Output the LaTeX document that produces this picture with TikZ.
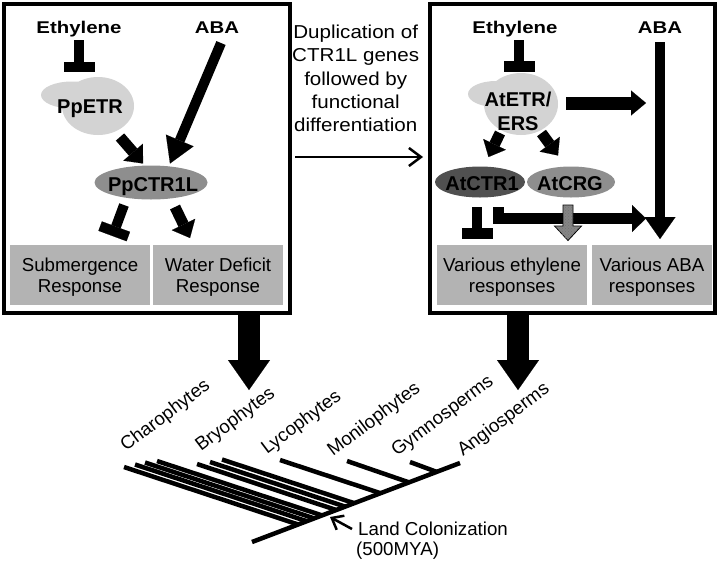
\documentclass[tikz,border=0pt]{standalone}
\usepackage{fontspec}
\setmainfont{Liberation Sans}
\newfontfamily\sigfont{Liberation Sans}[FakeStretch=1.2]
\newfontfamily\widefont{Liberation Sans}[FakeStretch=1.1]
\usetikzlibrary{arrows.meta,patterns,shapes.geometric}
\definecolor{blobgray}{HTML}{D3D3D3}
\definecolor{protgray}{HTML}{8E8E8E}
\definecolor{ctrgray}{HTML}{505050}
\definecolor{respgray}{HTML}{B3B3B3}
\definecolor{crggray}{HTML}{858585}
\begin{document}
\begin{tikzpicture}[x=1pt,y=-1pt,
  panel/.style={draw=black,line width=4pt,fill=white,inner sep=0pt},
  resp/.style={fill=respgray,inner sep=0pt,align=center,text depth=0pt,font=\fontsize{18.7}{21.5}\selectfont},
  sig/.style={inner sep=0pt,anchor=base,font=\sigfont\bfseries\fontsize{17}{20}\selectfont},
  prot/.style={inner sep=0pt,anchor=base,font=\bfseries\fontsize{20}{23.5}\selectfont},
  oval/.style={ellipse,inner sep=0pt,draw=none},
  blockarrow/.style n args={3}{line width=#1,-{Triangle[width=#2,length=#3,line width=0.1pt]}},
  inhibit/.style n args={3}{line width=#1,-{Rectangle[width=#2,length=#3,line width=0.1pt]}},
  thinarrow/.style={line width=2.5pt,-{Straight Barb[length=12pt,width=18pt]}},
  branch/.style={line width=4.5pt},
  taxon/.style={inner sep=0pt,anchor=base west,rotate=37,font=\fontsize{18.7}{22}\selectfont},
  plain/.style={inner sep=0pt,anchor=base west,font=\fontsize{18.7}{22}\selectfont}
]
\useasboundingbox (0,0) rectangle (719,560);

% ---------- panels ----------
\node[panel,minimum width=286pt,minimum height=309pt] (lbox) at (147,158.5) {};
\node[panel,minimum width=285pt,minimum height=309pt] (rbox) at (572.5,158.5) {};

% ---------- response boxes ----------
\node[resp,minimum width=140pt,minimum height=60pt] (sub) at (80,275) {Submergence\\Response};
\node[resp,minimum width=130pt,minimum height=60pt] (wd) at (218,275) {Water Deficit\\Response};
\node[resp,minimum width=150pt,minimum height=60pt] (veth) at (512,275) {Various ethylene\\responses};
\node[resp,minimum width=120pt,minimum height=60pt] (vaba) at (652,275) {Various ABA\\responses};

% ---------- left panel ----------
\node[sig] (ethL) at (79,33.3) {Ethylene};
\node[sig] (abaL) at (217,33.3) {ABA};
\node[oval,fill=blobgray,minimum width=62pt,minimum height=27pt] (etrLlobe) at (72,95) {};
\node[oval,fill=blobgray,minimum width=72pt,minimum height=58pt] (etrLbody) at (98,106) {};
\node[prot] (ppetr) at (90,113) {PpETR};
\node[oval,fill=protgray,minimum width=113pt,minimum height=34pt] (ppctrE) at (151,182.5) {};
\node[prot] (ppctr) at (153,191.3) {PpCTR1L};

\coordinate (eL1) at (79,40);   \coordinate (eL2) at (79,71);
\coordinate (aL1) at (221,43);  \coordinate (aL2) at (170,163.5);
\coordinate (pL1) at (120,137); \coordinate (pL2) at (143,163.5);
\coordinate (iL1) at (124,205); \coordinate (iL2) at (112.5,236);
\coordinate (wL1) at (175,207); \coordinate (wL2) at (190,238);
\draw[inhibit={10pt}{30pt}{9pt}] (eL1) -- (eL2);
\draw[blockarrow={10pt}{30pt}{25pt}] (aL1) -- (aL2);
\draw[blockarrow={11pt}{26pt}{15pt}] (pL1) -- (pL2);
\draw[inhibit={10pt}{30pt}{10pt}] (iL1) -- (iL2);
\draw[blockarrow={11pt}{26pt}{15pt}] (wL1) -- (wL2);

% ---------- middle ----------
\node[inner sep=0pt,anchor=north,align=center,font=\widefont\fontsize{18.7}{23.3}\selectfont] (dup) at (355.7,24.7)
  {Duplication of\\CTR1L genes\\followed by\\functional\\differentiation};
\coordinate (m1) at (295,157); \coordinate (m2) at (423,157);
\draw[thinarrow] (m1) -- (m2);

% ---------- right panel ----------
\node[sig] (ethR) at (515,33.3) {Ethylene};
\node[sig] (abaR) at (660,33.3) {ABA};
\node[oval,fill=blobgray,minimum width=56pt,minimum height=26pt] (etrRlobe) at (496,94) {};
\node[oval,fill=blobgray,minimum width=74pt,minimum height=62pt] (etrRbody) at (521,104) {};
\node[prot] (atetr1) at (518,106.5) {AtETR/};
\node[prot] (atetr2) at (518,130) {ERS};
\node[oval,fill=ctrgray,minimum width=90pt,minimum height=31pt] (atctrE) at (480,182) {};
\node[oval,fill=protgray,minimum width=88pt,minimum height=31pt] (atcrgE) at (571,182) {};
\node[prot] (atctr) at (482,190.7) {AtCTR1};
\node[prot] (atcrg) at (570,190.7) {AtCRG};

\coordinate (eR1) at (519,40);  \coordinate (eR2) at (519,71);
\coordinate (aR1) at (660,42);  \coordinate (aR2) at (660,239);
\coordinate (hR1) at (566,103); \coordinate (hR2) at (646,103);
\coordinate (cR1) at (500,133); \coordinate (cR2) at (488.5,157);
\coordinate (gR1) at (541.5,133); \coordinate (gR2) at (558,155.5);
\coordinate (iR1) at (477,207); \coordinate (iR2) at (477,238);
\coordinate (lR1) at (498,207); \coordinate (lR2) at (646,218.5);
\draw[inhibit={10pt}{30pt}{10pt}] (eR1) -- (eR2);
\draw[blockarrow={10pt}{31pt}{22pt}] (aR1) -- (aR2);
\draw[blockarrow={13pt}{25pt}{15pt}] (hR1) -- (hR2);
\draw[blockarrow={11pt}{25pt}{14pt}] (cR1) -- (cR2);
\draw[blockarrow={11pt}{25pt}{14pt}] (gR1) -- (gR2);
\draw[inhibit={10pt}{30pt}{10pt}] (iR1) -- (iR2);
\draw[blockarrow={11pt}{27pt}{14pt},line join=miter] (lR1) |- (lR2);
% hatched grey arrow from AtCRG
\filldraw[fill=crggray,draw=black,line width=0.8pt]
  (563,205) -- (573,205) -- (573,226) -- (581.5,226) -- (568,240.5) -- (554.5,226) -- (563,226) -- cycle;
\path[pattern=crosshatch dots,pattern color=black!55]
  (563,205) -- (573,205) -- (573,226) -- (581.5,226) -- (568,240.5) -- (554.5,226) -- (563,226) -- cycle;

% ---------- big arrows to tree ----------
\coordinate (bL1) at (249,313); \coordinate (bL2) at (249,390);
\coordinate (bR1) at (518,313); \coordinate (bR2) at (518,390);
\draw[blockarrow={22pt}{42pt}{30pt}] (bL1) -- (bL2);
\draw[blockarrow={22pt}{42pt}{30pt}] (bR1) -- (bR2);

% ---------- tree ----------
\coordinate (tA) at (252,542); \coordinate (tB) at (460,463);
\draw[branch] (tA) -- (tB);
\draw[branch] (124,467) -- (298.2,524.5);
\draw[branch] (135,464.5) -- (306.8,521.2);
\draw[branch] (145,462.5) -- (314.3,518.4);
\draw[branch] (157,461) -- (322.0,515.4);
\draw[branch] (197,464) -- (336.3,510.0);
\draw[branch] (210,462) -- (345.2,506.6);
\draw[branch] (222,459.5) -- (354.3,503.2);
\draw[branch] (280,460) -- (380.5,493.2);
\draw[branch] (347,461) -- (409.1,482.4);
\draw[branch] (410,462) -- (436.7,471.9);

\node[taxon] (cha) at (126,452) {Charophytes};
\node[taxon] (bry) at (201,452) {Bryophytes};
\node[taxon] (lyc) at (267,455) {Lycophytes};
\node[taxon] (mon) at (333,457) {Monilophytes};
\node[taxon] (gym) at (397,457) {Gymnosperms};
\node[taxon] (ang) at (463,457) {Angiosperms};

\node[plain] (land) at (358,535) {Land Colonization};
\node[plain] (mya) at (356,555.5) {(500MYA)};
\coordinate (lc1) at (352,529); \coordinate (lc2) at (330,517);
\draw[line width=2.5pt,-{Straight Barb[length=10pt,width=16pt]}] (lc1) -- (lc2);
\end{tikzpicture}
\end{document}
